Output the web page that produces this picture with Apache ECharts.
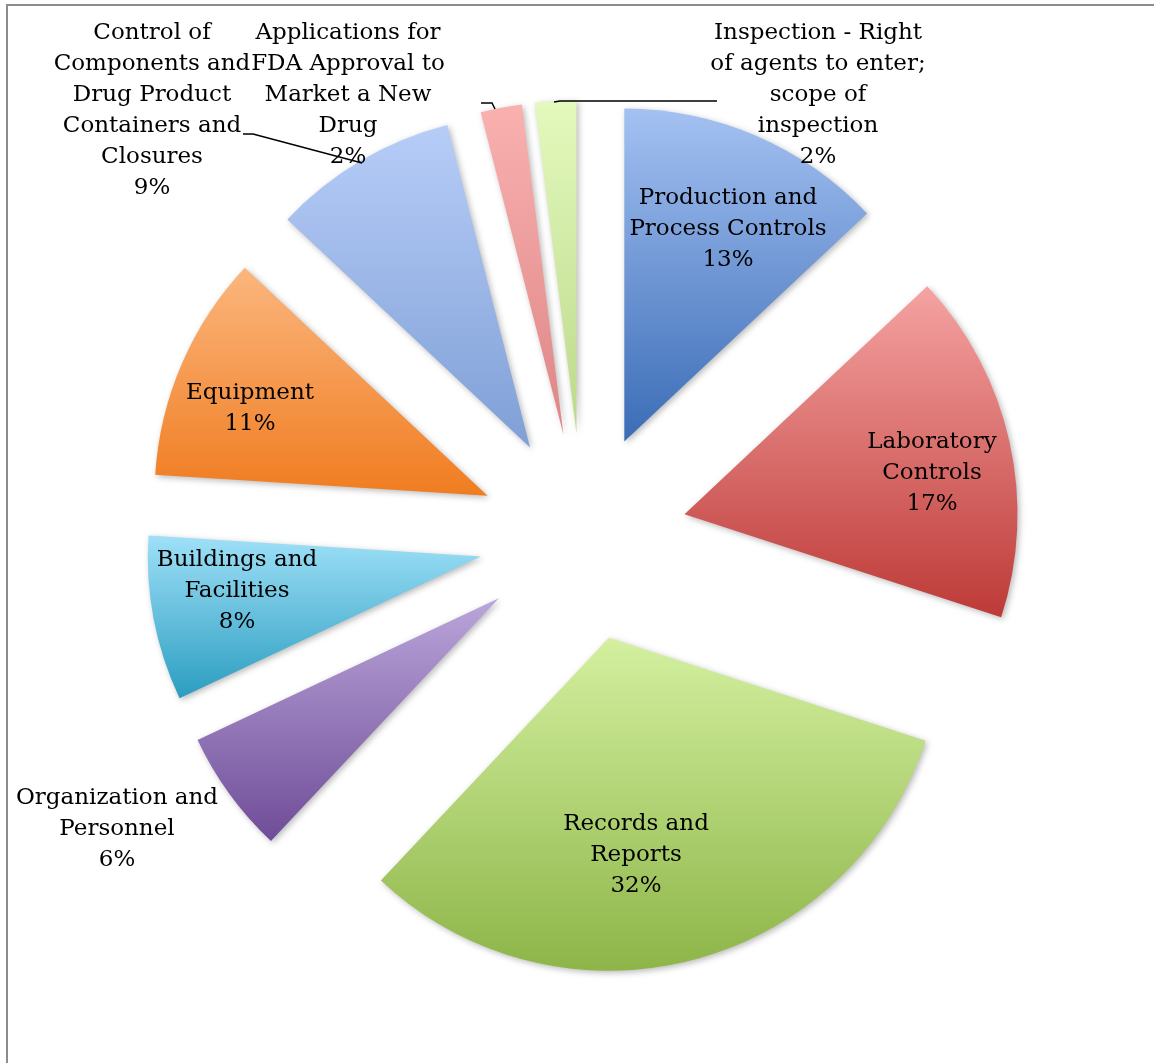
<!DOCTYPE html>
<html>
<head>
<meta charset="utf-8">
<script src="https://cdn.jsdelivr.net/npm/echarts@6/dist/echarts.min.js"></script>
<style>
  html, body { margin: 0; padding: 0; background: #fff; }
  #chart { width: 1154px; height: 1063px; }
</style>
</head>
<body>
<div id="chart"></div>
<script>
// ---- data ----
const categories = [
  "Production and\nProcess Controls",
  "Laboratory\nControls",
  "Records and\nReports",
  "Organization and\nPersonnel",
  "Buildings and\nFacilities",
  "Equipment",
  "Control of\nComponents and\nDrug Product\nContainers and\nClosures",
  "Applications for\nFDA Approval to\nMarket a New\nDrug",
  "Inspection - Right\nof agents to enter;\nscope of\ninspection"
];
const values = [13, 17, 32, 6, 8, 11, 9, 2, 2];

// ---- styles ----
const gradTop = ["#a4c1f2", "#f5a3a2", "#d4f0a0", "#baa6da", "#9fe0f8", "#fbb67e", "#b7cdf8", "#f9b1b0", "#e3f9bd"];
const gradBottom = ["#3a6cb6", "#bd3a37", "#8db548", "#6f4c98", "#2b9dc0", "#f07c20", "#7f9fd6", "#de8585", "#bcd98a"];
const showLeader = [false, false, false, false, false, false, true, true, true];
// label block centres (layout)
const labelCentres = [[728, 229], [932, 473], [636, 855], [117, 829], [237, 591], [250, 409], [152, 111], [348, 95], [818, 95]];
const leaderPoints = {
  6: [[243, 134], [253, 134], [362, 163]],
  7: [[481, 103], [492, 103], [495, 109]],
  8: [[717, 101], [560, 101], [554, 102]]
};

const PIE_CENTER = [583, 537];
const PIE_RADIUS = 333;

// exploded, coloured slices (no labels)
const sliceData = categories.map((name, i) => ({
  name: name,
  value: values[i],
  selected: true,
  itemStyle: {
    color: new echarts.graphic.LinearGradient(0, 0, 0, 1, [
      { offset: 0, color: gradTop[i] },
      { offset: 1, color: gradBottom[i] }
    ])
  }
}));

// invisible twin series carrying the data labels
const labelData = categories.map((name, i) => ({
  name: name,
  value: values[i],
  label: { position: showLeader[i] ? 'outside' : 'inside' },
  labelLine: { show: showLeader[i] }
}));

const chart = echarts.init(document.getElementById('chart'), null, { renderer: 'canvas' });
chart.setOption({
  animation: false,
  backgroundColor: '#ffffff',
  graphic: [{
    type: 'polyline',
    silent: true,
    shape: { points: [[1154, 5], [7, 5], [7, 1063]] },
    style: { stroke: '#8c8c8c', lineWidth: 2, fill: null }
  }],
  series: [{
    type: 'pie',
    center: PIE_CENTER,
    radius: PIE_RADIUS,
    startAngle: 90,
    clockwise: true,
    selectedMode: 'multiple',
    selectedOffset: 104,
    emphasis: { disabled: true },
    itemStyle: {
      shadowBlur: 6,
      shadowColor: 'rgba(0,0,0,0.28)',
      shadowOffsetX: 2,
      shadowOffsetY: 2
    },
    label: { show: false },
    labelLine: { show: false },
    data: sliceData
  }, {
    type: 'pie',
    silent: true,
    z: 3,
    center: PIE_CENTER,
    radius: PIE_RADIUS,
    startAngle: 90,
    clockwise: true,
    percentPrecision: 0,
    avoidLabelOverlap: false,
    emphasis: { disabled: true },
    itemStyle: { color: 'rgba(0,0,0,0)', borderWidth: 0 },
    label: {
      show: true,
      formatter: '{b}\n{d}%',
      fontFamily: 'DejaVu Serif',
      fontSize: 23,
      lineHeight: 31,
      color: '#000',
      align: 'center'
    },
    labelLine: {
      lineStyle: { color: '#000', width: 1.5 }
    },
    labelLayout: function (params) {
      const i = params.dataIndex;
      const c = labelCentres[i];
      const out = { x: c[0], y: c[1], align: 'center', verticalAlign: 'middle' };
      if (leaderPoints[i]) out.labelLinePoints = leaderPoints[i];
      return out;
    },
    data: labelData
  }]
});
</script>
</body>
</html>
